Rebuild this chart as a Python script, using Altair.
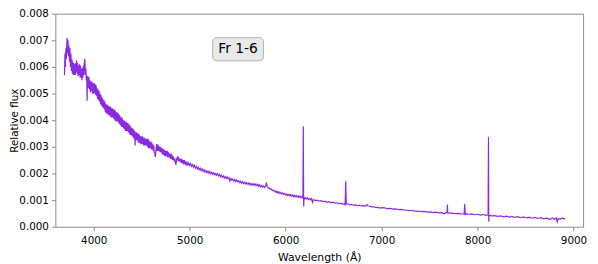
import altair as alt
import pandas as pd

# ---- spectrum data (flux in units of 1e-3) ----
wl_blue = [3695, 3700, 3705, 3710, 3715, 3720, 3723, 3727, 3732, 3737, 3742, 3747,
           3752, 3757, 3762, 3767, 3772, 3777, 3782, 3787, 3792, 3797, 3802, 3807,
           3812, 3817, 3822, 3827, 3832, 3837, 3842, 3847, 3852, 3857, 3862, 3867,
           3872, 3877, 3882, 3887, 3892, 3897, 3902, 3908, 3913, 3918, 3923, 3927,
           3931, 3935, 3941, 3946, 3951, 3956, 3961, 3966, 3971, 3976, 3981, 3986,
           3991, 3996]
f_blue = [5.69, 6.5, 6.0, 6.7, 6.3, 6.95, 7.1, 6.5, 7.0, 6.4, 6.8, 6.2,
          6.7, 6.0, 6.5, 5.85, 6.3, 5.75, 6.2, 5.7, 6.15, 5.7, 6.1, 5.7,
          6.15, 5.8, 6.25, 5.75, 6.15, 5.65, 6.05, 5.7, 6.1, 5.6, 6.05, 5.6,
          5.95, 5.5, 5.95, 5.6, 6.05, 5.7, 6.15, 6.3, 5.7, 5.95, 5.5, 5.7,
          4.73, 5.55, 5.65, 5.2, 5.6, 5.15, 5.5, 5.05, 5.45, 5.1, 5.45, 5.0,
          5.4, 5.0]

# 4006 .. 4981, sampled every 5 A
wl_mid = list(range(4006, 4982, 5))
f_mid = [
    5.4, 5.0, 5.35, 4.95, 5.3, 4.9, 5.2, 4.8, 5.15, 4.75,
    5.1, 4.7, 5.0, 4.6, 4.95, 4.55, 4.85, 4.5, 4.8, 4.45,
    4.75, 4.4, 4.7, 4.3, 4.6, 4.25, 4.6, 4.25, 4.55, 4.2,
    4.55, 4.2, 4.5, 4.15, 4.5, 4.1, 4.45, 4.1, 4.45, 4.1,
    4.4, 4.05, 4.4, 4.0, 4.35, 3.95, 4.3, 3.95, 4.3, 3.95,
    4.25, 3.9, 4.2, 3.85, 4.15, 3.8, 4.1, 3.75, 4.1, 3.75,
    4.0, 3.7, 4.0, 3.65, 3.95, 3.6, 3.95, 3.6, 3.9, 3.6,
    3.9, 3.55, 3.85, 3.5, 3.8, 3.45, 3.75, 3.45, 3.7, 3.4,
    3.7, 3.35, 3.65, 3.3, 3.6, 3.05, 3.55, 3.25, 3.55, 3.25,
    3.5, 3.2, 3.5, 3.15, 3.45, 3.15, 3.4, 3.1, 3.4, 3.1,
    3.4, 3.1, 3.35, 3.05, 3.35, 3.05, 3.3, 3.05, 3.3, 3.05,
    3.3, 3.0, 3.3, 2.95, 3.25, 2.95, 3.2, 2.95, 3.2, 2.9,
    3.15, 2.9, 3.1, 2.85, 3.05, 2.8, 2.75, 2.62, 2.75, 2.95,
    3.1, 2.85, 3.1, 2.85, 3.05, 2.85, 3.0, 2.8, 3.0, 2.8,
    2.95, 2.75, 2.95, 2.7, 2.9, 2.7, 2.9, 2.65, 2.85, 2.65,
    2.85, 2.65, 2.85, 2.6, 2.8, 2.6, 2.75, 2.6, 2.75, 2.55,
    2.75, 2.55, 2.7, 2.5, 2.65, 2.5, 2.6, 2.45, 2.55, 2.4,
    2.32, 2.45, 2.6, 2.5, 2.65, 2.45, 2.6, 2.45, 2.55, 2.45,
    2.55, 2.4, 2.55, 2.4, 2.5, 2.35, 2.5, 2.35, 2.5, 2.35,
    2.45, 2.3, 2.45, 2.3, 2.42, 2.3,
]

# 4990 .. 6170, sampled every 10 A
wl_green = list(range(4990, 6171, 10))
f_green = [
    2.40, 2.30, 2.37, 2.27, 2.33, 2.24, 2.30, 2.20, 2.26, 2.17,
    2.23, 2.14, 2.20, 2.11, 2.17, 2.08, 2.14, 2.05, 2.11, 2.03,
    2.09, 2.01, 2.07, 1.99, 2.04, 1.97, 2.02, 1.95, 2.00, 1.93,
    1.99, 1.91, 1.96, 1.88, 1.94, 1.86, 1.91, 1.83, 1.89, 1.81,
    1.87, 1.80, 1.84, 1.72, 1.81, 1.75, 1.79, 1.72, 1.77, 1.70,
    1.76, 1.69, 1.73, 1.66, 1.71, 1.64, 1.69, 1.62, 1.67, 1.61,
    1.66, 1.60, 1.65, 1.58, 1.63, 1.57, 1.62, 1.56, 1.61, 1.55,
    1.61, 1.54, 1.59, 1.52, 1.57, 1.50, 1.55, 1.49, 1.53, 1.47,
    1.52, 1.66, 1.49, 1.45, 1.46, 1.41, 1.42, 1.37, 1.38, 1.33,
    1.35, 1.29, 1.33, 1.27, 1.31, 1.25, 1.29, 1.23, 1.27, 1.21,
    1.25, 1.19, 1.23, 1.17, 1.22, 1.16, 1.20, 1.15, 1.19, 1.13,
    1.18, 1.12, 1.17, 1.11, 1.16, 1.10, 1.15, 1.09, 1.13,
]

wl_line1 = [6180, 6184, 6188, 6192, 6200, 6210, 6220, 6230, 6240, 6250, 6260, 6270]
f_line1 = [1.08, 3.77, 0.76, 1.10, 1.05, 1.10, 1.04, 1.08, 1.02, 1.06, 1.01, 1.05]

wl_red = [6280, 6290, 6310, 6330, 6350, 6370, 6390, 6410, 6430, 6450,
          6470, 6490, 6510, 6530, 6550, 6570, 6590, 6610, 6620, 6626,
          6632, 6650, 6670, 6690, 6710, 6730, 6750, 6770, 6790, 6810,
          6830, 6850, 6860, 6880, 6900, 6920, 6940, 6960, 6980, 7000,
          7030, 7060, 7090, 7120, 7150, 7180, 7210, 7240, 7270, 7300,
          7330, 7360, 7390, 7420, 7450, 7480, 7510, 7540, 7570, 7600,
          7630, 7650, 7670, 7682, 7686, 7690, 7710, 7730, 7750, 7780]
f_red = [0.91, 1.02, 0.98, 1.0, 0.96, 0.98, 0.94, 0.96, 0.92, 0.94,
         0.90, 0.92, 0.89, 0.90, 0.87, 0.89, 0.85, 0.87, 0.83, 1.72,
         0.86, 0.86, 0.82, 0.84, 0.81, 0.82, 0.79, 0.81, 0.78, 0.79,
         0.77, 0.83, 0.78, 0.77, 0.74, 0.75, 0.72, 0.73, 0.70, 0.72,
         0.71, 0.68, 0.69, 0.66, 0.67, 0.64, 0.65, 0.62, 0.62, 0.60,
         0.61, 0.58, 0.59, 0.57, 0.58, 0.55, 0.56, 0.53, 0.55, 0.52,
         0.53, 0.48, 0.53, 0.53, 0.83, 0.52, 0.51, 0.52, 0.50, 0.49]

wl_ir = [7810, 7840, 7860, 7866, 7872, 7890, 7910, 7940, 7970, 8000,
         8030, 8060, 8090, 8110, 8114, 8117, 8120, 8150, 8180, 8210,
         8240, 8270, 8300, 8330, 8360, 8390, 8420, 8450, 8480, 8510,
         8540, 8570, 8600, 8630, 8660, 8690, 8720, 8750, 8780, 8800,
         8820, 8830, 8840, 8860, 8880, 8900, 8911]
f_ir = [0.50, 0.47, 0.49, 0.86, 0.46, 0.49, 0.46, 0.48, 0.45, 0.47,
        0.44, 0.46, 0.43, 0.45, 3.37, 0.19, 0.43, 0.41, 0.42, 0.39,
        0.41, 0.37, 0.40, 0.36, 0.39, 0.35, 0.38, 0.34, 0.37, 0.33,
        0.36, 0.32, 0.35, 0.31, 0.34, 0.30, 0.33, 0.27, 0.33, 0.28,
        0.33, 0.18, 0.31, 0.28, 0.33, 0.29, 0.32]

x_ticks = [4000, 5000, 6000, 7000, 8000, 9000]
y_ticks = [0.0, 0.001, 0.002, 0.003, 0.004, 0.005, 0.006, 0.007, 0.008]

# annotation label (centre and box extent, data units)
ann_text = ["Fr 1-6"]
ann_x = [5504]
ann_y = [0.00667]
ann_box_x = [5239]
ann_box_x2 = [5769]
ann_box_y = [0.00623]
ann_box_y2 = [0.0071]

wl = wl_blue + wl_mid + wl_green + wl_line1 + wl_red + wl_ir
flux_e3 = f_blue + f_mid + f_green + f_line1 + f_red + f_ir
assert len(wl_mid) == len(f_mid), (len(wl_mid), len(f_mid))
assert len(wl_green) == len(f_green), (len(wl_green), len(f_green))
assert len(wl) == len(flux_e3), (len(wl), len(flux_e3))
spec = pd.DataFrame({"wavelength": wl, "flux": [v / 1000.0 for v in flux_e3]})
ann = pd.DataFrame({"text": ann_text, "x": ann_x, "y": ann_y,
                    "bx": ann_box_x, "bx2": ann_box_x2,
                    "by": ann_box_y, "by2": ann_box_y2})

FONT = "DejaVu Sans"
W, H = 535, 216
xscale = alt.Scale(domain=[3600, 9100], nice=False, zero=False)
yscale = alt.Scale(domain=[0, 0.008], nice=False)
xaxis = alt.Axis(values=x_ticks, format="d", title="Wavelength (Å)",
                 titlePadding=6, labelPadding=5)
yaxis = alt.Axis(values=y_ticks, format=".3f", title="Relative flux",
                 labelOverlap=False, titleFontSize=10.5, labelPadding=3,
                 titleX=-38, titleY=H / 2, titleBaseline="alphabetic",
                 titleAlign="center", titleAngle=270)

line = alt.Chart(spec).mark_line(color="#8a2be2", strokeWidth=1.2).encode(
    x=alt.X("wavelength:Q", scale=xscale, axis=xaxis),
    y=alt.Y("flux:Q", scale=yscale, axis=yaxis),
)

box = alt.Chart(ann).mark_rect(fill="#e9e9e9", stroke="#b3b3b3", strokeWidth=1,
                               cornerRadius=4).encode(
    x=alt.X("bx:Q", scale=xscale, axis=xaxis), x2="bx2:Q",
    y=alt.Y("by:Q", scale=yscale, axis=yaxis), y2="by2:Q",
)

label = alt.Chart(ann).mark_text(font=FONT, fontSize=14, color="black",
                                 align="center", baseline="middle").encode(
    x=alt.X("x:Q", scale=xscale, axis=xaxis),
    y=alt.Y("y:Q", scale=yscale, axis=yaxis),
    text="text:N",
)

chart = alt.layer(line, box, label).properties(
    width=W, height=H,
    autosize=alt.AutoSizeParams(type="none"),
    padding={"left": 48, "top": 4, "right": 7, "bottom": 36},
).configure_view(
    stroke="#8c8c8c", strokeWidth=1,
).configure_axis(
    grid=False, domain=False, labelOverlap=False,
    tickColor="#8c8c8c", tickSize=4, tickWidth=1,
    labelFont=FONT, labelFontSize=10.5, labelColor="black",
    titleFont=FONT, titleFontSize=11, titleColor="black", titleFontWeight="normal",
)

chart.save("out.html", embed_options={"renderer": "svg", "actions": False})
